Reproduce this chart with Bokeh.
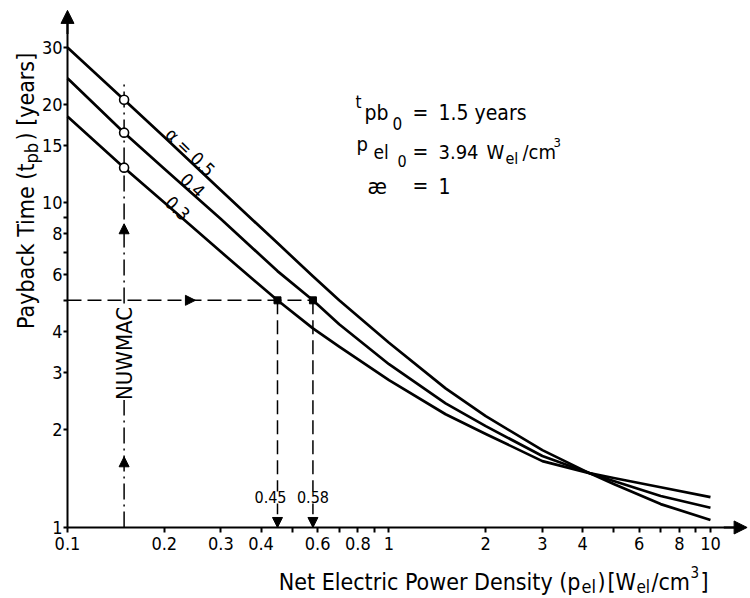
import math
from bokeh.plotting import figure
from bokeh.models import FixedTicker, Label, Arrow, NormalHead, Range1d
from bokeh.embed import file_html
from bokeh.resources import INLINE

# ---------------- data ----------------
p_el = [0.1, 0.15, 0.2, 0.3, 0.45, 0.58, 0.7, 1.0, 1.5, 2.0, 3.0, 4.2, 5.0, 7.0, 10.0]
t_alpha_05 = [30.0, 20.7, 15.9, 10.9, 7.5, 5.93, 5.0, 3.70, 2.68, 2.20, 1.73, 1.47, 1.36, 1.18, 1.055]
t_alpha_04 = [24.1, 16.4, 12.7, 8.9, 6.15, 5.0, 4.22, 3.18, 2.41, 2.05, 1.66, 1.47, 1.39, 1.25, 1.15]
t_alpha_03 = [18.4, 12.8, 10.0, 7.05, 5.0, 4.1, 3.6, 2.84, 2.23, 1.94, 1.60, 1.47, 1.42, 1.33, 1.24]

nuwmac_p = 0.15
nuwmac_top = 23.7
target_t = 5.0
target_p = [0.45, 0.58]
target_labels = ["0.45", "0.58"]

x_ticks = [0.1, 0.2, 0.3, 0.4, 0.5, 0.6, 0.7, 0.8, 0.9, 1, 2, 3, 4, 5, 6, 7, 8, 9, 10]
x_tick_labels = ["0.1", "0.2", "0.3", "0.4", "", "0.6", "", "0.8", "", "1",
                 "2", "3", "4", "", "6", "", "8", "", "10"]
y_ticks = [1, 2, 3, 4, 5, 6, 7, 8, 9, 10, 15, 20, 30]
y_tick_labels = ["1", "2", "3", "4", "", "6", "", "8", "", "10", "15", "20", "30"]

FONT = "'DejaVu Sans Condensed', 'Liberation Sans Narrow', 'DejaVu Sans', sans-serif"

# the frame covers the whole canvas; axes are drawn at fixed data locations
p = figure(width=750, height=598, x_axis_type="log", y_axis_type="log",
           x_range=Range1d(0.06189, 13.32), y_range=Range1d(0.6046, 41.83),
           output_backend="svg", toolbar_location=None,
           min_border_left=0, min_border_right=0, min_border_top=0, min_border_bottom=0)
p.grid.visible = False
p.outline_line_color = None
p.background_fill_color = "white"
p.border_fill_color = "white"

p.xaxis.fixed_location = 1
p.yaxis.fixed_location = 0.1
p.xaxis.bounds = (0.1, 12.5)
p.yaxis.bounds = (1, 36)

for ax, ticks, labels in ((p.xaxis, x_ticks, x_tick_labels), (p.yaxis, y_ticks, y_tick_labels)):
    ax.ticker = FixedTicker(ticks=ticks, minor_ticks=[])
    ax.major_label_overrides = {t: l for t, l in zip(ticks, labels)}
    ax.axis_line_width = 2
    ax.axis_line_color = "black"
    ax.major_tick_line_width = 2
    ax.major_tick_in = 0
    ax.minor_tick_line_color = None
    ax.major_label_text_font = FONT
    ax.major_label_text_font_size = "18px"
    ax.major_label_text_color = "black"
p.yaxis.major_tick_out = 4
p.yaxis.major_label_standoff = 1
p.xaxis.major_tick_out = 5
p.xaxis.major_label_standoff = 5

# curves
for t in (t_alpha_05, t_alpha_04, t_alpha_03):
    p.line(p_el, t, line_width=2.7, line_color="black", line_join="round")

# NUWMAC reference
p.line([nuwmac_p, nuwmac_p], [1, nuwmac_top], line_color="black", line_width=1.5,
       line_dash="16 5 2 5")
idx = p_el.index(nuwmac_p)
p.scatter([nuwmac_p] * 3, [t_alpha_05[idx], t_alpha_04[idx], t_alpha_03[idx]],
          marker="circle", size=9, fill_color="white", line_color="black", line_width=1.6)

# target payback time construction
p.line([p_el[0], max(target_p)], [target_t, target_t], line_color="black", line_width=1.5,
       line_dash="14 6")
for tp in target_p:
    p.line([tp, tp], [target_t, 1], line_color="black", line_width=1.5, line_dash="14 6")
p.scatter(target_p, [target_t] * len(target_p), marker="square", size=7,
          fill_color="black", line_color="black")


def head(x0, y0, x1, y1, size=10, lw=0):
    p.add_layout(Arrow(end=NormalHead(size=size, fill_color="black", line_color="black", line_width=1),
                       x_start=x0, y_start=y0, x_end=x1, y_end=y1,
                       line_color="black", line_width=lw if lw else 1, line_alpha=1 if lw else 0))


head(11.0, 1, 13.0, 1, size=13, lw=2)
head(0.1, 33, 0.1, 39.0, size=13, lw=2)
head(0.22, target_t, 0.25, target_t, size=10)
head(nuwmac_p, 1.5, nuwmac_p, 1.65, size=10)
head(nuwmac_p, 7.8, nuwmac_p, 8.6, size=10)
for tp in target_p:
    head(tp, 1.08, tp, 1.0, size=10)


def txt(s, x, y, size, dx=0, dy=0, angle=0.0, align="left", base="alphabetic", bg=None):
    p.add_layout(Label(x=x, y=y, text=s, x_offset=dx, y_offset=dy, angle=angle,
                       text_align=align, text_baseline=base, text_font=FONT,
                       text_font_size=f"{size}px", text_color="black",
                       background_fill_color=bg))


# curve labels
ang = -0.77
txt("α = 0.5", 0.241, 14.3, 18, angle=ang, align="center", base="middle")
txt("0.4", 0.245, 11.3, 18, angle=ang, align="center", base="middle")
txt("0.3", 0.22, 9.6, 18, angle=ang, align="center", base="middle")

# NUWMAC and target labels
txt("NUWMAC", nuwmac_p, 3.43, 22, angle=math.pi / 2, align="center", base="middle", bg="white")
for tp, lab, off in zip(target_p, target_labels, (-7, 0)):
    txt(lab, tp, 1.237, 16, dx=off, align="center", base="middle", bg="white")

# parameter block
x0, y1, y2, y3 = 0.77, 18.9, 14.25, 11.2
txt("t", x0, y1, 17, dx=3, dy=11)
txt("pb", x0, y1, 21, dx=12)
txt("0", x0, y1, 17, dx=40, dy=-11)
txt("=", x0, y1, 21, dx=60)
txt("1.5  years", x0, y1, 21, dx=86)

txt("p", x0, y2, 20, dx=4, dy=8)
txt("el", x0, y2, 19, dx=21)
txt("0", x0, y2, 16, dx=45, dy=-9)
txt("=", x0, y2, 21, dx=60)
txt("3.94", x0, y2, 20, dx=86)
txt("W", x0, y2, 20, dx=134)
txt("el", x0, y2, 16, dx=153, dy=-6)
txt("/cm", x0, y2, 20, dx=170)
txt("3", x0, y2, 13, dx=201, dy=10)

txt("æ", x0, y3, 22, dx=15)
txt("=", x0, y3, 21, dx=60)
txt("1", x0, y3, 21, dx=86)

# axis titles
yl_x, yl_y = 0.07403, 13.18
txt("Payback Time (t", yl_x, yl_y, 23, angle=math.pi / 2, align="right")
txt("pb", yl_x, yl_y, 18, dx=6, angle=math.pi / 2)
txt(") [years]", yl_x, yl_y, 23, dy=23, angle=math.pi / 2)

xl_x, xl_y = 3.94, 0.68
txt("Net Electric Power Density (p", xl_x, xl_y, 23, align="right")
txt("el", xl_x, xl_y, 18, dx=1, dy=-5)
txt(")", xl_x, xl_y, 23, dx=17)
txt("[W", xl_x, xl_y, 23, dx=27)
txt("el", xl_x, xl_y, 17, dx=56, dy=-5)
txt("/cm", xl_x, xl_y, 23, dx=71)
txt("3", xl_x, xl_y, 15, dx=110, dy=10)
txt("]", xl_x, xl_y, 23, dx=120)

open("out.html", "w").write(file_html(p, INLINE))
